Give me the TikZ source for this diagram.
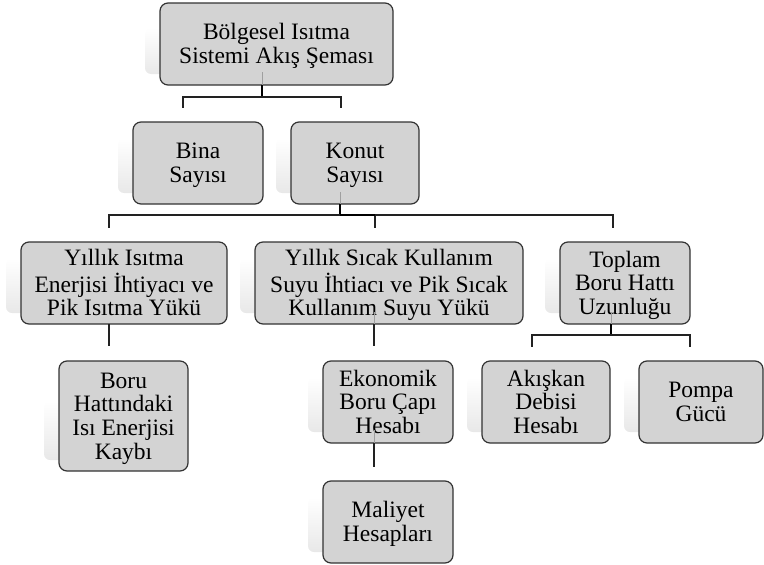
\documentclass[tikz,border=0pt]{standalone}
\usepackage{fontspec}
\setmainfont{Liberation Serif}
\usetikzlibrary{backgrounds}
\definecolor{boxfill}{HTML}{D3D3D3}
\definecolor{boxline}{HTML}{333333}
\definecolor{conncol}{HTML}{222222}
\tikzset{
  box/.style={draw=boxline, line width=1.2pt, fill=boxfill, rounded corners=8pt,
    inner sep=0pt, outer sep=0pt, align=center,
    font=\fontsize{23.5}{23.6}\selectfont},
  conn/.style={draw=conncol, line width=1.1pt},
  stub/.style={draw=black, line width=1.7pt},
  inner/.style={draw=gray!75, line width=1pt},
  shadowbox/.style={top color=white, bottom color=black!9, rounded corners=6pt, draw=none}
}
\newcommand\myshad[2]{%
  \shade[shadowbox] ([xshift=-15pt,yshift=-#2]#1.north west) rectangle ([xshift=-15pt,yshift=11pt]#1.south east);}
\newcommand\bt[1]{\raisebox{-3pt}[\height][\depth]{\begin{tabular}{@{}c@{}}#1\end{tabular}}}
\begin{document}
\begin{tikzpicture}[x=1pt,y=-1pt]
\useasboundingbox (0,0) rectangle (764,565);
% nodes
\node[box, minimum width=233pt, minimum height=82pt] (title) at (276.5,44) {\bt{Bölgesel Isıtma\\Sistemi Akış Şeması}};
\node[box, minimum width=130pt, minimum height=82pt] (bina) at (198,163) {\bt{Bina\\Sayısı}};
\node[box, minimum width=128pt, minimum height=82pt] (konut) at (355,163) {\bt{Konut\\Sayısı}};
\node[box, minimum width=206pt, minimum height=82pt] (isitma) at (124,283) {\bt{Yıllık Isıtma\\Enerjisi İhtiyacı ve\\Pik Isıtma Yükü}};
\node[box, minimum width=268pt, minimum height=82pt] (sicak) at (389,283) {\bt{Yıllık Sıcak Kullanım\\Suyu İhtiacı ve Pik Sıcak\\Kullanım Suyu Yükü}};
\node[box, minimum width=130pt, minimum height=82pt] (toplam) at (625,283) {\bt{Toplam\\Boru Hattı\\Uzunluğu}};
\node[box, minimum width=129pt, minimum height=110pt] (boru) at (123.5,416) {\bt{Boru\\Hattındaki\\Isı Enerjisi\\Kaybı}};
\node[box, minimum width=130pt, minimum height=82pt] (ekon) at (388,402) {\bt{Ekonomik\\Boru Çapı\\Hesabı}};
\node[box, minimum width=130pt, minimum height=82pt] (maliyet) at (388,522) {\bt{Maliyet\\Hesapları}};
\node[box, minimum width=128pt, minimum height=82pt] (akiskan) at (546,402) {\bt{Akışkan\\Debisi\\Hesabı}};
\node[box, minimum width=124pt, minimum height=82pt] (pompa) at (701,402) {\bt{Pompa\\Gücü}};
% shadows
\begin{scope}[on background layer]
\myshad{title}{25pt}
\myshad{bina}{16pt}
\myshad{konut}{16pt}
\myshad{isitma}{16pt}
\myshad{sicak}{16pt}
\myshad{toplam}{16pt}
\myshad{boru}{40pt}
\myshad{ekon}{16pt}
\myshad{maliyet}{16pt}
\myshad{akiskan}{16pt}
\myshad{pompa}{16pt}
\end{scope}
% grey inner segments
\draw[inner] ([xshift=-14.5pt,yshift=13pt]title.south) -- ([xshift=-14.5pt]title.south);
\draw[inner] ([xshift=-15pt,yshift=12pt]konut.south) -- ([xshift=-15pt]konut.south);
\draw[inner] ([xshift=-15pt,yshift=12pt]sicak.south) -- ([xshift=-15pt]sicak.south);
\draw[inner] ([xshift=-14pt,yshift=12pt]toplam.south) -- ([xshift=-14pt]toplam.south);
\draw[inner] ([xshift=-14pt,yshift=13pt]ekon.south) -- ([xshift=-14pt]ekon.south);
% level 1
\draw[stub] ([xshift=-14.5pt]title.south) -- ++(0,12) coordinate (tb);
\draw[conn] (tb) -| ([xshift=-15pt,yshift=14pt]bina.north);
\draw[conn] (tb) -| ([xshift=-14pt,yshift=14pt]konut.north);
% level 2
\draw[stub] ([xshift=-15pt]konut.south) -- ++(0,11) coordinate (kb);
\draw[conn] (kb) -| ([xshift=-15pt,yshift=14pt]isitma.north);
\draw[conn] (kb) -| ([xshift=-14pt,yshift=14pt]sicak.north);
\draw[conn] (kb) -| ([xshift=-12pt,yshift=14pt]toplam.north);
\draw[stub, line width=1.5pt] (kb) -- ([xshift=-14pt]kb -| sicak.north);
% level 3
\draw[conn] ([xshift=-15pt]isitma.south) -- ([xshift=-14.5pt,yshift=15pt]boru.north);
\draw[conn] ([xshift=-15pt]sicak.south) -- ([xshift=-14pt,yshift=15pt]ekon.north);
\draw[conn] ([xshift=-14pt]ekon.south) -- ([xshift=-14pt,yshift=14pt]maliyet.north);
\draw[stub] ([xshift=-14pt]toplam.south) -- ++(0,11) coordinate (pb);
\draw[conn] (pb) -| ([xshift=-14pt,yshift=14pt]akiskan.north);
\draw[conn] (pb) -| ([xshift=-11pt,yshift=14pt]pompa.north);
\end{tikzpicture}
\end{document}
